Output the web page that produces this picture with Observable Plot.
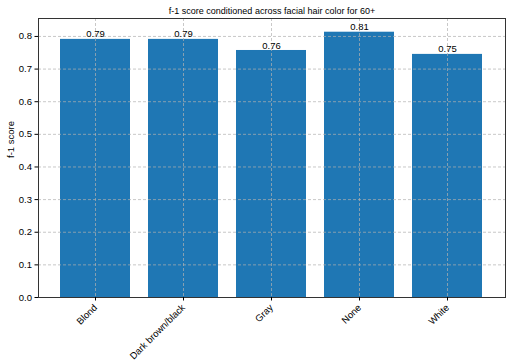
<!DOCTYPE html>
<html><head><meta charset="utf-8">
<script src="https://cdn.jsdelivr.net/npm/d3@7"></script>
<script src="https://cdn.jsdelivr.net/npm/@observablehq/plot@0.6"></script>
<style>body{margin:0;background:#fff;font-family:"Liberation Sans",Arial,sans-serif}</style>
</head><body><div id="chart"></div>
<script>
const categories = ["Blond", "Dark brown/black", "Gray", "None", "White"];
const scores = [0.791, 0.791, 0.757, 0.813, 0.745];
const labels = ["0.79", "0.79", "0.76", "0.81", "0.75"];
const yTicks = [0, 0.1, 0.2, 0.3, 0.4, 0.5, 0.6, 0.7, 0.8];
const title = "f-1 score conditioned across facial hair color for 60+";
const data = categories.map((c, i) => ({c, v: scores[i], l: labels[i]}));

const chart = Plot.plot({
  width: 516, height: 363,
  marginLeft: 38, marginRight: 11, marginTop: 18, marginBottom: 66,
  style: {fontFamily: "Liberation Sans, Arial, sans-serif", fontSize: "9px", color: "#000", background: "#fff"},
  x: {domain: categories, paddingInner: 0.2, paddingOuter: 0.24, label: null},
  y: {domain: [0, 0.855], label: null},
  marks: [
    Plot.barY(data, {x: "c", y: "v", fill: "#1f77b4"}),
    Plot.gridY(yTicks, {stroke: "#b0b0b0", strokeOpacity: 1, strokeDasharray: "3,2", strokeWidth: 0.7}),
    Plot.gridX(categories, {stroke: "#b0b0b0", strokeOpacity: 1, strokeDasharray: "3,2", strokeWidth: 0.7}),
    Plot.text(data, {x: "c", y: "v", text: "l", dy: -5, fontSize: 9.5, fill: "#000"}),
    Plot.frame({stroke: "#333", strokeWidth: 1}),
    Plot.axisY(yTicks, {tickFormat: d3.format(".1f"), tickSize: 3.5, tickPadding: 3, fontSize: 9.5, label: null}),
    Plot.axisX(categories, {tickSize: 3.5, tickRotate: -45, tickPadding: 5, fontSize: 9.5, label: null}),
    Plot.text([title], {frameAnchor: "top", dy: -11, fontSize: 9, fill: "#000"}),
    Plot.text(["f-1 score"], {frameAnchor: "left", dx: -28, rotate: -90, fontSize: 9.5, fill: "#000"})
  ]
});
document.getElementById("chart").appendChild(chart);
</script></body></html>
